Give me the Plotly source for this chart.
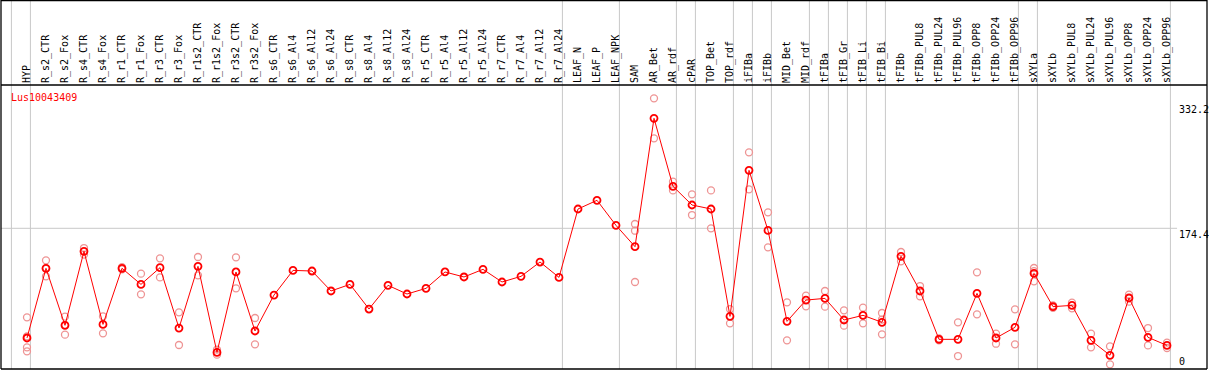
import plotly.graph_objects as go

categories = ["HYP", "R_s2_CTR", "R_s2_Fox", "R_s4_CTR", "R_s4_Fox", "R_r1_CTR", "R_r1_Fox",
              "R_r3_CTR", "R_r3_Fox", "R_r1s2_CTR", "R_r1s2_Fox", "R_r3s2_CTR", "R_r3s2_Fox",
              "R_s6_CTR", "R_s6_Al4", "R_s6_Al12", "R_s6_Al24", "R_s8_CTR", "R_s8_Al4",
              "R_s8_Al12", "R_s8_Al24", "R_r5_CTR", "R_r5_Al4", "R_r5_Al12", "R_r5_Al24",
              "R_r7_CTR", "R_r7_Al4", "R_r7_Al12", "R_r7_Al24", "LEAF_N", "LEAF_P", "LEAF_NPK",
              "SAM", "AR_Bet", "AR_rdf", "cPAR", "TOP_Bet", "TOP_rdf", "iFIBa", "iFIBb",
              "MID_Bet", "MID_rdf", "tFIBa", "tFIB_Gr", "tFIB_Li", "tFIB_Bi", "tFIBb",
              "tFIBb_PUL8", "tFIBb_PUL24", "tFIBb_PUL96", "tFIBb_OPP8", "tFIBb_OPP24",
              "tFIBb_OPP96", "sXYLa", "sXYLb", "sXYLb_PUL8", "sXYLb_PUL24", "sXYLb_PUL96",
              "sXYLb_OPP8", "sXYLb_OPP24", "sXYLb_OPP96"]

mean_values = [36.5, 124.1, 52.4, 145.5, 53.6, 124.1, 103.9, 124.9, 49.0, 126.6, 18.4, 119.5, 45.3,
               90.5, 121.5, 120.7, 95.6, 103.9, 72.9, 102.7, 91.8, 98.9, 119.5, 113.2, 122.8,
               106.9, 114.0, 132.0, 112.7, 198.7, 209.6, 178.1, 151.3, 312.7, 227.2, 203.7,
               198.7, 63.7, 247.3, 171.8, 57.4, 84.2, 86.3, 59.1, 65.0, 56.2, 139.2, 95.6, 34.8,
               34.8, 92.6, 36.5, 49.9, 117.8, 75.9, 77.5, 33.5, 14.7, 86.8, 37.3, 27.2]

rep_a = [62.5, 134.1, 63.3, 149.6, 63.7, 125.5, 117.4, 136.6, 68.7, 138.3, 21.8, 137.9, 61.6,
         None, None, None, None, None, None, None, None, None, None, None, None,
         None, None, None, None, None, None, None, 179.8, 337.8, 233.0, 217.1,
         222.1, 72.9, 269.9, 194.5, 81.3, 89.7, 95.6, 71.3, 74.6, 67.9, 144.6, 101.8, 36.0,
         56.2, 119.0, 41.9, 72.5, 124.5, 77.5, 80.9, 41.9, 26.0, 90.9, 49.0, 30.6]
rep_b = [38.6, 124.1, 53.0, 141.4, 42.3, 122.8, 91.4, 112.7, 27.7, 115.3, 15.5, 98.9, 28.5,
         None, None, None, None, None, None, None, None, None, None, None, None,
         None, None, None, None, None, None, None, 171.4, 287.5, 222.1, 191.1,
         174.4, 54.9, 223.4, 150.5, 33.5, 76.3, 75.9, 52.0, 54.9, 59.7, 132.9, 88.9, 33.5,
         13.8, 66.2, 29.3, 28.5, 107.7, 74.5, 73.8, 24.7, 3.4, 82.2, 27.2, 23.9]
rep_c = [24.7, 114.0, 40.7, None, None, None, None, None, None, None, None, None, None,
         None, None, None, None, None, None, None, None, None, None, None, None,
         None, None, None, None, None, None, None, 106.9, None, None, None,
         None, None, None, None, None, None, None, None, None, 41.1, None, None, None,
         None, None, None, None, 120.5, None, None, None, None, None, None, None]
rep_d = [19.7] + [None] * 60

gene_label = "Lus10043409"
ytick_vals = [332.2, 174.4, 0]
ref_line = 174.4
group_last = [-1, 0, 28, 31, 34, 35, 37, 38, 39, 41, 42, 43, 44, 45, 52, 53, 60]

MONO = "DejaVu Sans Mono"
REP_COLOR = "rgb(238,148,148)"

rx, ry = [], []
for reps in (rep_a, rep_b, rep_c, rep_d):
    for i, v in enumerate(reps):
        if v is not None:
            rx.append(i)
            ry.append(v)

fig = go.Figure()
fig.add_trace(go.Scatter(x=rx, y=ry, mode="markers", cliponaxis=False,
                         marker=dict(symbol="circle-open", size=7, color=REP_COLOR,
                                     line=dict(width=1.3, color=REP_COLOR)),
                         showlegend=False, hoverinfo="skip"))
fig.add_trace(go.Scatter(x=list(range(len(categories))), y=mean_values, mode="lines+markers",
                         cliponaxis=False,
                         line=dict(color="#ff0000", width=1),
                         marker=dict(symbol="circle-open", size=7, color="#ff0000",
                                     line=dict(width=1.8, color="#ff0000")),
                         showlegend=False, hoverinfo="skip"))

xr = [-1.368, 62.105]
shapes = []
for g in group_last:
    shapes.append(dict(type="line", xref="x", yref="paper", x0=g + 0.18, x1=g + 0.18,
                       y0=0, y1=1.3, line=dict(color="#c8c8c8", width=1), layer="below"))
shapes.append(dict(type="line", xref="x", yref="y", x0=xr[0], x1=60.53, y0=ref_line, y1=ref_line,
                   line=dict(color="#c8c8c8", width=1), layer="below"))
# frame
for (x0, y0, x1, y1) in [(0, 1.0, 1, 1.0), (0, 1.2975, 1, 1.2975), (0, 0, 1, 0),
                         (0, 0, 0, 1.3), (1, 0, 1, 1.3)]:
    shapes.append(dict(type="line", xref="paper", yref="paper", x0=x0, x1=x1, y0=y0, y1=y1,
                       line=dict(color="black", width=1.3)))

annotations = [dict(xref="paper", yref="paper", x=0.0068, y=0.983, xanchor="left", yanchor="top",
                    text=gene_label, showarrow=False, font=dict(family=MONO, size=10, color="#ff0000"))]
for v in ytick_vals:
    annotations.append(dict(xref="x", yref="y", x=60.58, y=v if v > 0 else -1.5,
                            xanchor="left", yanchor="top" if v > 0 else "bottom",
                            text=str(v), showarrow=False, borderpad=0,
                            font=dict(family=MONO, size=10, color="black")))

fig.update_layout(width=1209, height=370, margin=dict(l=1, r=2, t=85, b=1, autoexpand=False),
                  plot_bgcolor="white", paper_bgcolor="white",
                  shapes=shapes, annotations=annotations)
fig.update_xaxes(range=xr, side="top", tickmode="array", tickvals=list(range(len(categories))),
                 ticktext=categories, tickangle=-90, ticks="", showgrid=False, zeroline=False,
                 showline=False, ticklabelstandoff=1, automargin=False,
                 tickfont=dict(family=MONO, size=10, color="black"))
fig.update_yaxes(range=[-2.5, 354.6], showticklabels=False, showgrid=False, zeroline=False,
                 showline=False, automargin=False)
fig.write_html("out.html", config={"displayModeBar": False},
               post_script="document.body.style.margin='0px';document.body.style.overflow='hidden';")
